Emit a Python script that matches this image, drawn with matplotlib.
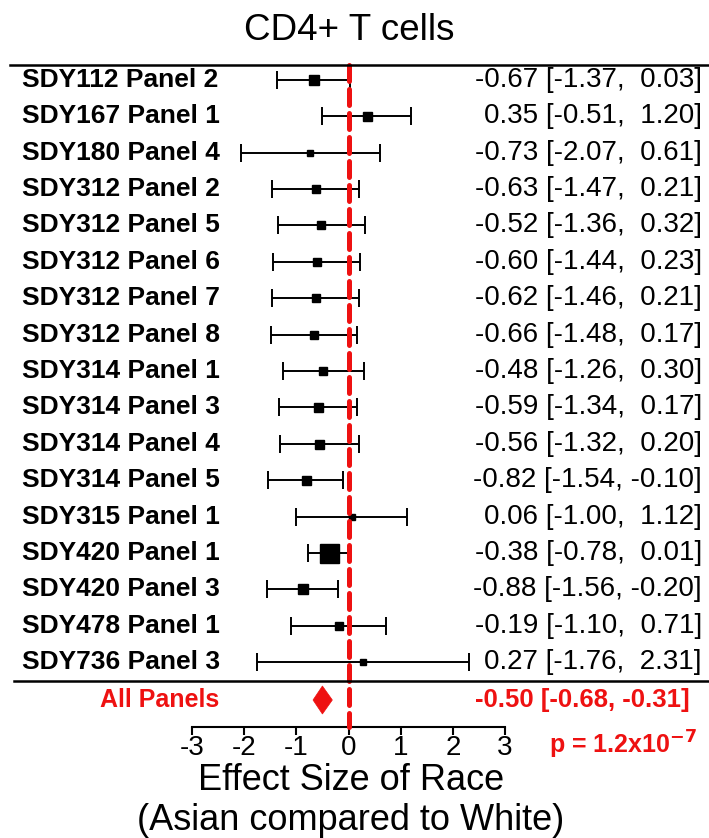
import matplotlib
matplotlib.use("Agg")
import matplotlib.pyplot as plt
import matplotlib.transforms as mtransforms
from matplotlib.lines import Line2D
from matplotlib.patches import Polygon

plt.rcParams['font.family'] = ['Liberation Sans', 'DejaVu Sans']

labels = ["SDY112 Panel 2", "SDY167 Panel 1", "SDY180 Panel 4", "SDY312 Panel 2",
          "SDY312 Panel 5", "SDY312 Panel 6", "SDY312 Panel 7", "SDY312 Panel 8",
          "SDY314 Panel 1", "SDY314 Panel 3", "SDY314 Panel 4", "SDY314 Panel 5",
          "SDY315 Panel 1", "SDY420 Panel 1", "SDY420 Panel 3", "SDY478 Panel 1",
          "SDY736 Panel 3"]
effect = [-0.67, 0.35, -0.73, -0.63, -0.52, -0.60, -0.62, -0.66, -0.48, -0.59,
          -0.56, -0.82, 0.06, -0.38, -0.88, -0.19, 0.27]
lower = [-1.37, -0.51, -2.07, -1.47, -1.36, -1.44, -1.46, -1.48, -1.26, -1.34,
         -1.32, -1.54, -1.00, -0.78, -1.56, -1.10, -1.76]
upper = [0.03, 1.20, 0.61, 0.21, 0.32, 0.23, 0.21, 0.17, 0.30, 0.17,
         0.20, -0.10, 1.12, 0.01, -0.20, 0.71, 2.31]
weight_px = [10, 9, 6, 8, 8, 8, 8, 8, 8, 9, 9, 9, 6, 19, 10, 8, 6]

summary_est = -0.50
summary_lo = -0.68
summary_hi = -0.31
p_text = r"p = 1.2x10$^{\mathbf{-7}}$"
xticks = [-3, -2, -1, 0, 1, 2, 3]

W, H = 709, 838
fig = plt.figure(figsize=(W / 100, H / 100), dpi=100)

def fy(px):
    return 1 - px / H

ax_left, ax_right = 192 / W, 505 / W
ax_top, ax_bot = 65, 727
ax = fig.add_axes([ax_left, fy(ax_bot), ax_right - ax_left, (ax_bot - ax_top) / H])
row0, rstep = 80, 36.375
def krow(px):
    return (px - row0) / rstep
ax.set_xlim(-3, 3)
ax.set_ylim(krow(ax_bot), krow(ax_top))
for s in ['top', 'right', 'left']:
    ax.spines[s].set_visible(False)
ax.spines['bottom'].set_linewidth(1.5)
ax.set_yticks([])
ax.set_xticks(xticks)
ax.set_xticklabels([str(t) for t in xticks])
ax.tick_params(axis='x', direction='out', length=6, width=1.5, labelsize=20, pad=0)
ax.patch.set_visible(False)

n = len(labels)
ys = list(range(n))
ax.errorbar(effect, ys, xerr=[[e - l for e, l in zip(effect, lower)],
                              [u - e for e, u in zip(effect, upper)]],
            fmt='none', ecolor='black', elinewidth=1.4, capsize=6.5, capthick=1.4,
            clip_on=False, zorder=3)
for x, y, s in zip(effect, ys, weight_px):
    ax.plot([x], [y], marker='s', color='black', markersize=s * 0.72,
            linestyle='none', clip_on=False, zorder=4)

# reference dashed line
red = '#ee1111'
ax.plot([0, 0], [krow(ax_top), krow(ax_bot)], color=red, lw=3.6,
        dashes=(3.2, 1.6), dash_capstyle='round', clip_on=False, zorder=5)

# summary diamond
ys_sum = krow(700)
dh = 14 / rstep
ax.add_patch(Polygon([[summary_lo, ys_sum], [summary_est, ys_sum - dh],
                      [summary_hi, ys_sum], [summary_est, ys_sum + dh]],
                     closed=True, facecolor=red, edgecolor=red, lw=0.5,
                     clip_on=False, zorder=4))

# horizontal rules
fig.add_artist(Line2D([10 / W, 1], [fy(65), fy(65)], color='black', lw=1.8,
                      transform=fig.transFigure))
fig.add_artist(Line2D([14 / W, 1], [fy(681), fy(681)], color='black', lw=1.8,
                      transform=fig.transFigure))

trans = mtransforms.blended_transform_factory(fig.transFigure, ax.transData)
for y, lab, e, l, u in zip(ys, labels, effect, lower, upper):
    ax.text(22 / W, y, lab, transform=trans, ha='left', va='center',
            fontsize=19, color='black', fontweight='bold')
    def f(v):
        s = f"{v:.2f}"
        return s if v < 0 else " " + s
    ax.text(702 / W, y, f"{e:.2f} [{l:.2f}, {f(u)}]", transform=trans,
            ha='right', va='center', fontsize=20, color='black')

ax.text(219 / W, ys_sum, "All Panels", transform=trans, ha='right', va='center',
        fontsize=18, color=red, fontweight='bold')
ax.text(690 / W, ys_sum,
        f"{summary_est:.2f} [{summary_lo:.2f}, {summary_hi:.2f}]",
        transform=trans, ha='right', va='center', fontsize=18.5, color=red,
        fontweight='bold')
fig.text(697 / W, fy(745), p_text, ha='right', va='center', fontsize=18,
         color=red, fontweight='bold')

fig.text(349 / W, fy(31), "CD4+ T cells", ha='center', va='center', fontsize=26.5)
fig.text(351 / W, fy(780), "Effect Size of Race", ha='center', va='center',
         fontsize=26)
fig.text(351 / W, fy(820), "(Asian compared to White)", ha='center', va='center',
         fontsize=26)

fig.savefig("out.png", dpi=100)
